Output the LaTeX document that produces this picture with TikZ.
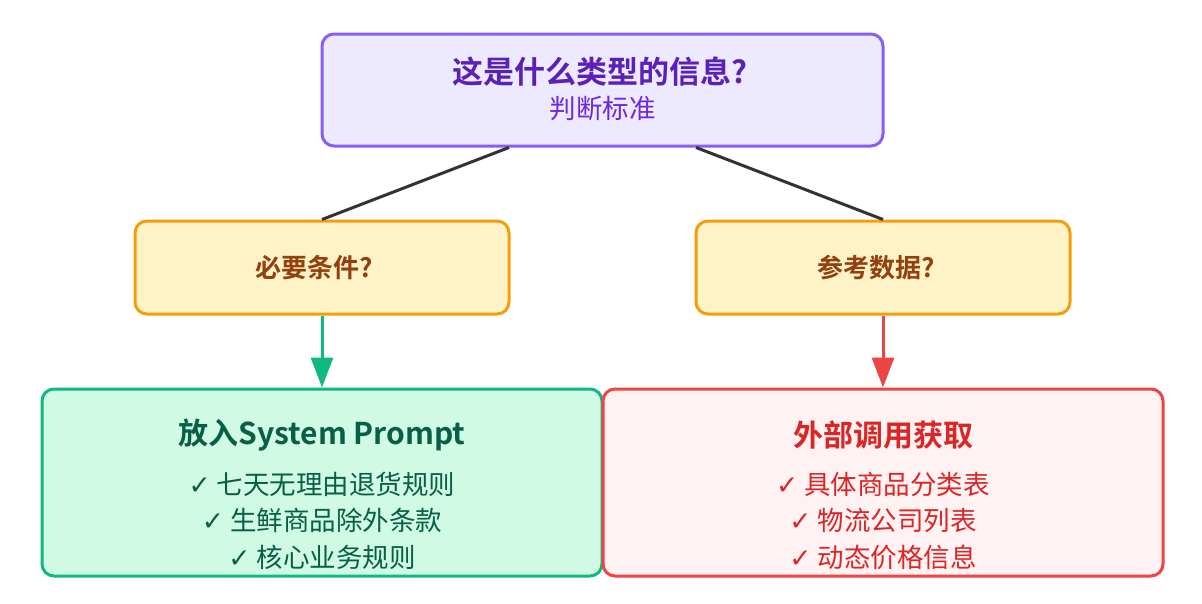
\documentclass[tikz,border=0pt]{standalone}
\usepackage{fontspec}
\setmainfont{Noto Sans CJK SC}[BoldFont={Noto Sans CJK SC Bold}]
\newfontfamily\symfont{DejaVu Sans}
\usetikzlibrary{arrows.meta}
\definecolor{purpB}{HTML}{8B5CF6}
\definecolor{purpF}{HTML}{EDE9FE}
\definecolor{purpT}{HTML}{5B21B6}
\definecolor{purpS}{HTML}{6D28D9}
\definecolor{ambB}{HTML}{F59E0B}
\definecolor{ambF}{HTML}{FEF3C7}
\definecolor{ambT}{HTML}{92400E}
\definecolor{grnB}{HTML}{10B981}
\definecolor{grnF}{HTML}{D1FAE5}
\definecolor{grnT}{HTML}{065F46}
\definecolor{redB}{HTML}{EF4444}
\definecolor{redF}{HTML}{FEF2F2}
\definecolor{redT}{HTML}{DC2626}
\definecolor{connC}{HTML}{333333}
\newcommand{\ck}{{\symfont ✓}\ }
\begin{document}
\begin{tikzpicture}[x=1pt,y=-1pt,
  box/.style={draw, line width=3pt, rounded corners=12pt, inner sep=0pt},
  txt/.style={inner sep=0pt, anchor=center},
  conn/.style={draw=connC, line width=3pt},
  arr/.style={line width=3pt, -{Triangle[length=30pt,width=22pt]}}]
\useasboundingbox (0,0) rectangle (1202,603);
% top
\node[box, draw=purpB, fill=purpF, minimum width=561pt, minimum height=112pt] (top) at (602.5,90) {};
\node[txt, text=purpT, font=\bfseries\fontsize{31}{36}\selectfont] (toptitle) at (600,72) {这是什么类型的信息?};
\node[txt, text=purpS, font=\fontsize{26.5}{30}\selectfont] (topsub) at (602.5,108) {判断标准};
% middle
\node[box, draw=ambB, fill=ambF, minimum width=374pt, minimum height=93pt] (mid1) at (322,267.5) {};
\node[txt, text=ambT, font=\bfseries\fontsize{26}{30}\selectfont] (mid1t) at (314,268) {必要条件?};
\node[box, draw=ambB, fill=ambF, minimum width=374pt, minimum height=93pt] (mid2) at (883,267.5) {};
\node[txt, text=ambT, font=\bfseries\fontsize{26}{30}\selectfont] (mid2t) at (876,268) {参考数据?};
% bottom
\node[box, draw=grnB, fill=grnF, minimum width=560pt, minimum height=187pt] (bot1) at (322,482.5) {};
\node[txt, text=grnT, font=\bfseries\fontsize{30}{34}\selectfont] (bot1t) at (322,435) {放入System Prompt};
\node[txt, text=grnT, font=\fontsize{26.5}{30}\selectfont] (bot1a) at (322,484) {\ck 七天无理由退货规则};
\node[txt, text=grnT, font=\fontsize{26.5}{30}\selectfont] (bot1b) at (322,520) {\ck 生鲜商品除外条款};
\node[txt, text=grnT, font=\fontsize{26.5}{30}\selectfont] (bot1c) at (322,557) {\ck 核心业务规则};
\node[box, draw=redB, fill=redF, minimum width=560pt, minimum height=187pt] (bot2) at (883,482.5) {};
\node[txt, text=redT, font=\bfseries\fontsize{30}{34}\selectfont] (bot2t) at (883,435) {外部调用获取};
\node[txt, text=redT, font=\fontsize{26.5}{30}\selectfont] (bot2a) at (883,484) {\ck 具体商品分类表};
\node[txt, text=redT, font=\fontsize{26.5}{30}\selectfont] (bot2b) at (883,520) {\ck 物流公司列表};
\node[txt, text=redT, font=\fontsize{26.5}{30}\selectfont] (bot2c) at (883,557) {\ck 动态价格信息};
% connectors
\draw[conn] ([xshift=-93.5pt]top.south) -- (mid1.north);
\draw[conn] ([xshift=93.5pt]top.south) -- (mid2.north);
\draw[arr, draw=grnB, fill=grnB] (mid1.south) -- (bot1.north);
\draw[arr, draw=redB, fill=redB] (mid2.south) -- (bot2.north);
\end{tikzpicture}
\end{document}
